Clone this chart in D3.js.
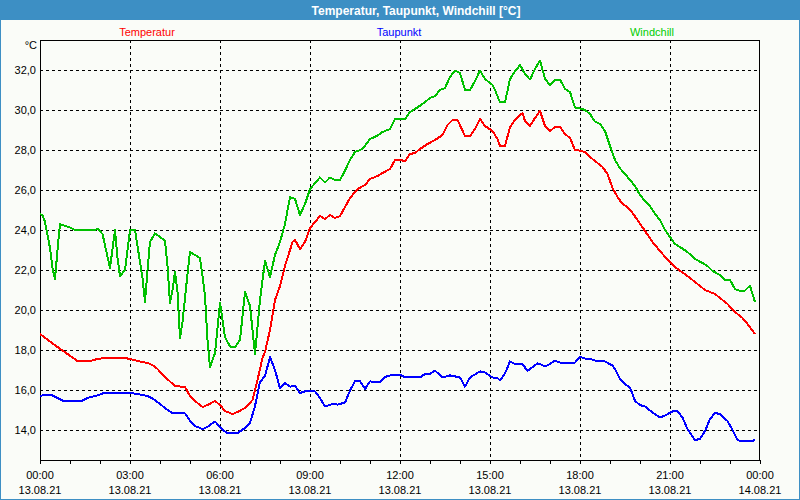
<!DOCTYPE html>
<html>
<head>
<meta charset="utf-8">
<script src="https://cdn.jsdelivr.net/npm/d3@7"></script>
<style>
  html, body { margin: 0; padding: 0; background: #ffffff; }
  svg { display: block; }
</style>
</head>
<body>
<svg id="chart" width="800" height="500"></svg>
<script>
// ---------------- DATA ----------------
const title = "Temperatur, Taupunkt, Windchill [°C]";
const seriesNames = ["Temperatur", "Taupunkt", "Windchill"];
const unitLabel = "°C";
const yTicks = [14, 16, 18, 20, 22, 24, 26, 28, 30, 32];
const xTickHours = [0, 3, 6, 9, 12, 15, 18, 21, 24];
const xTickTimes = ["00:00", "03:00", "06:00", "09:00", "12:00", "15:00", "18:00", "21:00", "00:00"];
const xTickDates = ["13.08.21", "13.08.21", "13.08.21", "13.08.21", "13.08.21", "13.08.21", "13.08.21", "13.08.21", "14.08.21"];

const tempTimes = ["00:00","00:35","00:55","01:15","01:40","01:55","02:10","02:50","03:00","03:15","03:35","03:45","03:55","04:10","04:30","04:50","05:00","05:10","05:25","05:35","05:50","06:00","06:10","06:25","06:35","06:50","07:05","07:15","07:25","07:30","07:40","07:50","08:00","08:10","08:20","08:25","08:30","08:40","08:50","09:00","09:20","09:30","09:40","09:50","10:00","10:10","10:20","10:35","10:50","11:00","11:15","11:25","11:40","11:50","12:00","12:10","12:20","12:30","12:40","12:55","13:10","13:25","13:35","13:45","13:55","14:10","14:20","14:30","14:40","14:50","15:05","15:15","15:20","15:30","15:40","15:50","16:05","16:10","16:20","16:30","16:40","16:50","17:00","17:10","17:20","17:30","17:40","17:50","18:00","18:10","18:20","18:30","18:45","18:55","19:05","19:15","19:25","19:35","19:45","19:55","20:10","20:25","20:45","21:00","21:15","21:35","21:50","22:10","22:30","22:40","22:55","23:10","23:25","23:35","23:50"];
const tempValues = [18.8,18.15,17.8,17.45,17.45,17.55,17.6,17.6,17.55,17.45,17.35,17.25,17.05,16.65,16.2,16.15,15.7,15.45,15.15,15.25,15.45,15.25,14.95,14.8,14.9,15.1,15.5,16.5,17.6,17.9,19.0,20.5,21.2,22.2,23.0,23.4,23.5,23.05,23.4,24.1,24.7,24.55,24.75,24.6,24.7,25.15,25.6,26.05,26.25,26.55,26.7,26.85,27.05,27.5,27.5,27.45,27.8,27.85,28.05,28.3,28.5,28.75,29.25,29.5,29.5,28.7,28.7,29.05,29.55,29.2,28.95,28.55,28.2,28.2,29.15,29.5,29.85,29.45,29.2,29.6,29.95,29.2,28.95,29.15,29.15,28.8,28.6,28.0,27.97,27.9,27.65,27.45,27.15,26.8,26.1,25.65,25.3,25.15,24.85,24.5,23.95,23.4,22.8,22.4,22.05,21.7,21.4,21.0,20.8,20.6,20.3,19.9,19.6,19.3,18.8];

const dewTimes = ["00:00","00:05","00:15","00:25","00:35","00:45","01:25","01:35","01:55","02:10","02:55","03:15","03:35","03:45","04:00","04:10","04:25","04:50","05:00","05:10","05:25","05:35","05:50","06:00","06:05","06:15","06:35","06:50","07:00","07:10","07:20","07:30","07:40","07:50","08:00","08:10","08:20","08:30","08:40","08:50","09:10","09:20","09:30","09:45","09:55","10:10","10:20","10:30","10:40","10:50","11:00","11:20","11:30","11:45","12:00","12:10","12:25","12:30","12:40","12:50","13:00","13:10","13:25","13:40","14:00","14:10","14:20","14:40","14:50","15:05","15:15","15:20","15:30","15:40","15:50","16:05","16:15","16:20","16:35","16:40","16:50","17:00","17:10","17:20","17:50","18:00","18:10","18:20","18:30","18:50","19:05","19:10","19:20","19:30","19:40","19:45","19:50","20:00","20:10","20:25","20:40","20:50","21:05","21:15","21:25","21:35","21:50","22:00","22:10","22:20","22:30","22:40","22:55","23:05","23:15","23:25","23:45","23:50"];
const dewValues = [15.67,15.73,15.73,15.73,15.6,15.47,15.47,15.6,15.73,15.87,15.87,15.8,15.7,15.58,15.3,15.1,14.83,14.83,14.47,14.2,14.05,14.15,14.43,14.15,14.0,13.85,13.85,14.1,14.35,15.2,16.4,16.7,17.65,17.0,16.08,16.35,16.17,16.2,15.85,15.93,15.93,15.6,15.17,15.3,15.27,15.37,15.97,16.45,16.45,16.05,16.43,16.38,16.65,16.77,16.77,16.63,16.63,16.67,16.63,16.8,16.8,16.97,16.63,16.73,16.63,16.17,16.63,16.93,16.88,16.63,16.6,16.47,16.83,17.43,17.3,17.3,16.95,17.05,17.33,17.3,17.17,17.3,17.47,17.37,17.37,17.67,17.57,17.57,17.47,17.43,17.22,17.05,16.55,16.3,16.13,15.8,15.45,15.25,15.17,14.88,14.63,14.72,14.93,14.93,14.63,14.05,13.5,13.55,13.95,14.55,14.85,14.8,14.45,14.0,13.5,13.43,13.43,13.53];

const chillTimes = ["00:00","00:05","00:10","00:20","00:25","00:30","00:35","00:40","00:45","00:50","01:00","01:10","01:50","01:55","02:05","02:20","02:30","02:35","02:40","02:50","03:00","03:10","03:15","03:25","03:30","03:35","03:40","03:50","04:00","04:05","04:10","04:15","04:20","04:25","04:30","04:35","04:40","04:45","04:55","05:00","05:10","05:20","05:25","05:30","05:35","05:40","05:50","06:00","06:05","06:10","06:20","06:30","06:40","06:50","07:00","07:10","07:20","07:30","07:40","07:50","08:00","08:10","08:20","08:30","08:40","08:50","09:00","09:20","09:30","09:40","09:50","10:00","10:10","10:20","10:30","10:45","11:00","11:15","11:25","11:40","11:50","12:00","12:10","12:20","12:30","12:45","13:00","13:10","13:20","13:30","13:40","13:50","14:00","14:10","14:20","14:30","14:40","14:50","15:05","15:10","15:20","15:30","15:40","15:50","16:00","16:10","16:20","16:30","16:40","16:50","17:00","17:10","17:20","17:30","17:40","17:50","18:00","18:10","18:20","18:30","18:40","18:50","19:00","19:10","19:20","19:30","19:40","19:50","20:00","20:10","20:20","20:30","20:40","20:50","21:00","21:10","21:20","21:35","21:50","22:05","22:15","22:25","22:40","22:50","23:00","23:10","23:20","23:30","23:35","23:40","23:50"];
const chillValues = [24.8,24.75,24.4,23.1,22.1,21.55,23.0,24.3,24.25,24.2,24.13,24.0,24.0,24.07,23.8,22.1,24.0,22.6,21.7,22.0,24.0,24.0,23.2,21.6,20.4,22.0,23.4,23.83,23.65,23.55,23.47,22.2,20.35,21.0,21.9,20.9,18.6,19.4,21.8,22.9,22.75,22.6,21.7,20.7,18.5,17.15,17.85,20.35,19.5,18.65,18.17,18.13,18.5,20.9,20.2,17.8,20.5,22.45,21.65,22.75,23.4,24.3,25.65,25.55,24.75,25.3,26.05,26.63,26.37,26.63,26.5,26.5,26.97,27.5,27.9,28.05,28.55,28.72,28.9,29.05,29.55,29.57,29.55,29.9,30.05,30.3,30.6,30.7,31.0,31.1,31.65,31.97,31.85,31.0,31.0,31.45,31.97,31.55,31.25,31.0,30.38,30.38,31.55,31.93,32.25,31.8,31.52,32.05,32.47,31.57,31.23,31.52,31.52,31.06,30.9,30.12,30.08,30.0,29.8,29.42,29.3,28.95,28.2,27.5,27.08,26.8,26.5,26.2,25.75,25.45,25.2,24.8,24.5,24.0,23.65,23.3,23.15,22.9,22.55,22.35,22.2,21.95,21.75,21.5,21.5,21.05,20.95,20.97,21.1,21.2,20.4];

const seriesColors = ["#ff0000", "#0000ff", "#00c000"];
const legendColors = ["#ff0000", "#0000ff", "#00cc00"];

// ---------------- LAYOUT ----------------
const W = 800, H = 500;
const plot = { left: 40, right: 760, top: 40, bottom: 460 };
const font = "'Liberation Sans', Arial, sans-serif";

const svg = d3.select("#chart");

// background & frame
svg.append("rect").attr("x", 0).attr("y", 0).attr("width", W).attr("height", H).attr("fill", "#fafcf8");
svg.append("rect").attr("x", 0).attr("y", 0).attr("width", W).attr("height", 20).attr("fill", "#3d8fc4");
svg.append("rect").attr("x", 0.5).attr("y", 0.5).attr("width", W - 1).attr("height", H - 1)
  .attr("fill", "none").attr("stroke", "#3d8fc4").attr("stroke-width", 1);

svg.append("text").attr("x", 416).attr("y", 14.5).attr("text-anchor", "middle")
  .attr("font-family", font).attr("font-weight", "bold").attr("font-size", 12)
  .attr("fill", "#ffffff").text(title);

// scales
const x = d3.scaleLinear().domain([0, 24]).range([plot.left, plot.right]);
const y = d3.scaleLinear().domain([12.5, 33.5]).range([plot.bottom, plot.top]);

const toHours = s => { const [h, m] = s.split(":").map(Number); return h + m / 60; };

// grid
const grid = svg.append("g").attr("stroke", "#000").attr("stroke-width", 1).attr("stroke-dasharray", "3,3");
yTicks.forEach(v => {
  const yy = Math.round(y(v)) + 0.5;
  grid.append("line").attr("x1", plot.left).attr("x2", plot.right).attr("y1", yy).attr("y2", yy);
});
xTickHours.filter(h => h > 0 && h < 24).forEach(h => {
  const xx = Math.round(x(h)) + 0.5;
  grid.append("line").attr("x1", xx).attr("x2", xx).attr("y1", plot.top).attr("y2", plot.bottom);
});

// plot border
svg.append("rect").attr("x", plot.left + 0.5).attr("y", plot.top + 0.5)
  .attr("width", plot.right - plot.left - 1).attr("height", plot.bottom - plot.top)
  .attr("fill", "none").attr("stroke", "#000").attr("stroke-width", 1);

// x axis ticks (hourly, below axis)
const xAxis = d3.axisBottom(x).tickValues(d3.range(0, 25)).tickSize(4).tickFormat("");
const gx = svg.append("g").attr("transform", `translate(0,${plot.bottom})`).call(xAxis);
gx.select(".domain").remove();
gx.selectAll("line").attr("stroke", "#000");

// x labels
xTickHours.forEach((h, i) => {
  svg.append("text").attr("x", x(h)).attr("y", 479).attr("text-anchor", "middle")
    .attr("font-family", font).attr("font-size", 11).attr("fill", "#000").text(xTickTimes[i]);
  svg.append("text").attr("x", x(h)).attr("y", 494).attr("text-anchor", "middle")
    .attr("font-family", font).attr("font-size", 11).attr("fill", "#000").text(xTickDates[i]);
});

// y labels
const yAxis = d3.axisLeft(y).tickValues(yTicks).tickSize(0).tickPadding(4)
  .tickFormat(v => d3.format(".1f")(v).replace(".", ","));
const gy = svg.append("g").attr("transform", `translate(${plot.left},0)`).call(yAxis);
gy.select(".domain").remove();
gy.selectAll("text").attr("font-family", font).attr("font-size", 11).attr("fill", "#000");

svg.append("text").attr("x", 37).attr("y", 49).attr("text-anchor", "end")
  .attr("font-family", font).attr("font-size", 11).attr("fill", "#000").text(unitLabel);

// legend labels
const legendX = [147, 399, 652];
seriesNames.forEach((n, i) => {
  svg.append("text").attr("x", legendX[i]).attr("y", 36).attr("text-anchor", "middle")
    .attr("font-family", font).attr("font-size", 11).attr("fill", legendColors[i]).text(n);
});

// lines
const line = d3.line().x(d => x(d[0])).y(d => y(d[1]));
const series = [
  { t: tempTimes, v: tempValues, c: seriesColors[0] },
  { t: dewTimes, v: dewValues, c: seriesColors[1] },
  { t: chillTimes, v: chillValues, c: seriesColors[2] }
];
const drawOrder = [2, 0, 1];
drawOrder.forEach(k => {
  const s = series[k];
  const pts = s.t.map((t, i) => [toHours(t), s.v[i]]);
  svg.append("path").datum(pts).attr("d", line).attr("fill", "none")
    .attr("stroke", s.c).attr("stroke-width", 2).attr("stroke-linejoin", "round")
    .attr("shape-rendering", "crispEdges");
});
</script>
</body>
</html>
